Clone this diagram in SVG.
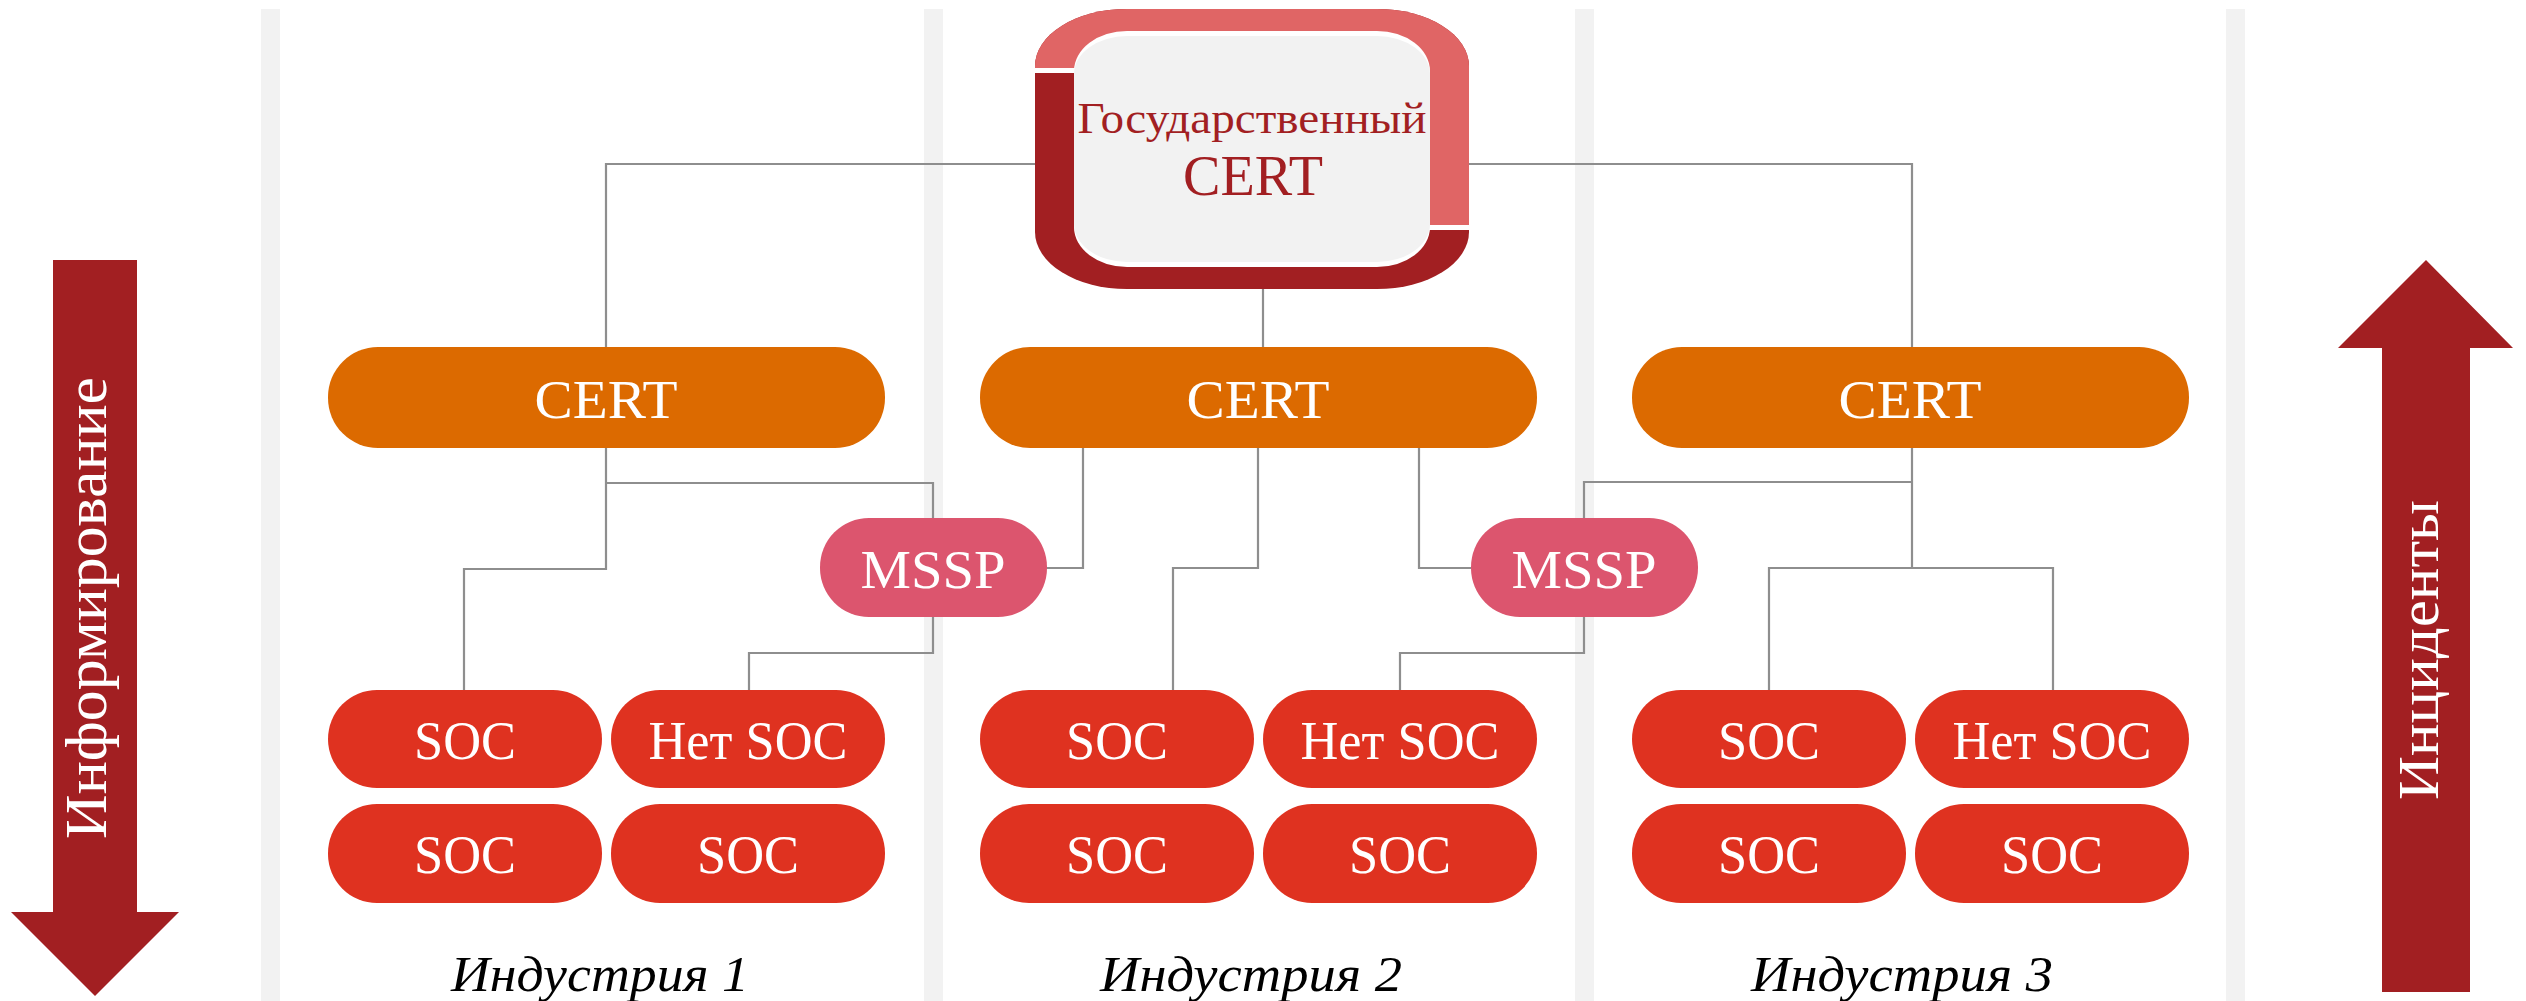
<svg xmlns="http://www.w3.org/2000/svg" width="2526" height="1001" viewBox="0 0 2526 1001">
<style>
.band{fill:#F2F2F2}
.ln{fill:none;stroke:#8E8E8E;stroke-width:2.2}
.t{font-family:"Liberation Serif","Times New Roman",serif;text-anchor:middle}
.w{fill:#FFFFFF;font-size:55px}
.cert{fill:#DC6A00}
.mssp{fill:#DC556E}
.soc{fill:#DF3220}
.ind{font-family:"Liberation Serif","Times New Roman",serif;font-style:italic;font-size:50px;fill:#000;text-anchor:middle}
.arr{fill:#A21F22}
</style>
<defs>
<clipPath id="lightClip"><polygon points="1030,0 1475,0 1475,225 1400,225 1400,68 1030,68"/></clipPath>
</defs>
<rect width="2526" height="1001" fill="#FFFFFF"/>
<g id="bands">
<rect class="band" x="261" y="9" width="19" height="992"/>
<rect class="band" x="924" y="9" width="19" height="992"/>
<rect class="band" x="1575" y="9" width="19" height="992"/>
<rect class="band" x="2226" y="9" width="19" height="992"/>
</g>
<g id="connectors">
<path class="ln" d="M1035,164 H606 V347"/>
<path class="ln" d="M1469,164 H1912 V347"/>
<path class="ln" d="M1263,289 V347"/>
<path class="ln" d="M606,448 V569 H464 V690"/>
<path class="ln" d="M606,483 H933 V518"/>
<path class="ln" d="M933,617 V653 H749 V690"/>
<path class="ln" d="M1083,448 V568 H1045"/>
<path class="ln" d="M1258,448 V568 H1173 V690"/>
<path class="ln" d="M1419,448 V568 H1471"/>
<path class="ln" d="M1912,448 V568"/>
<path class="ln" d="M1912,482 H1584 V518"/>
<path class="ln" d="M1769,690 V568 H2053 V690"/>
<path class="ln" d="M1584,617 V653 H1400 V690"/>
</g>
<g id="gov-cert">
<rect x="1035" y="9" width="434" height="280" rx="92" ry="57" fill="#A21F22"/>
<rect x="1035" y="9" width="434" height="280" rx="92" ry="57" fill="#E06565" clip-path="url(#lightClip)"/>
<rect x="1030" y="68" width="48" height="5" fill="#FFFFFF"/>
<rect x="1426" y="225" width="48" height="5" fill="#FFFFFF"/>
<rect x="1074" y="31" width="356" height="236" rx="53" ry="40" fill="#FFFFFF"/>
<rect x="1074" y="36" width="356" height="226" rx="53" ry="38" fill="#F2F2F2"/>
<text class="t" x="1252" y="133" font-size="45" fill="#A21F22" textLength="349" lengthAdjust="spacingAndGlyphs">Государственный</text>
<text class="t" x="1253" y="195" font-size="57" fill="#A21F22" textLength="140" lengthAdjust="spacingAndGlyphs">CERT</text>
</g>
<g id="cert1"><rect class="cert" x="328" y="347" width="557" height="101" rx="50"/><text class="t w" x="606" y="418" textLength="143" lengthAdjust="spacingAndGlyphs">CERT</text></g>
<g id="cert2"><rect class="cert" x="980" y="347" width="557" height="101" rx="50"/><text class="t w" x="1258" y="418" textLength="143" lengthAdjust="spacingAndGlyphs">CERT</text></g>
<g id="cert3"><rect class="cert" x="1632" y="347" width="557" height="101" rx="50"/><text class="t w" x="1910" y="418" textLength="143" lengthAdjust="spacingAndGlyphs">CERT</text></g>
<g id="mssp1"><rect class="mssp" x="820" y="518" width="227" height="99" rx="49"/><text class="t w" x="933" y="588" textLength="145" lengthAdjust="spacingAndGlyphs">MSSP</text></g>
<g id="mssp2"><rect class="mssp" x="1471" y="518" width="227" height="99" rx="49"/><text class="t w" x="1584" y="588" textLength="145" lengthAdjust="spacingAndGlyphs">MSSP</text></g>
<g id="ind1-soc1"><rect class="soc" x="328" y="690" width="274" height="98" rx="49"/><text class="t w" x="465" y="759" textLength="102" lengthAdjust="spacingAndGlyphs">SOC</text></g>
<g id="ind1-nosoc"><rect class="soc" x="611" y="690" width="274" height="98" rx="49"/><text class="t w" x="748" y="759" textLength="199" lengthAdjust="spacingAndGlyphs">Нет SOC</text></g>
<g id="ind1-soc2"><rect class="soc" x="328" y="804" width="274" height="99" rx="49"/><text class="t w" x="465" y="873" textLength="102" lengthAdjust="spacingAndGlyphs">SOC</text></g>
<g id="ind1-soc3"><rect class="soc" x="611" y="804" width="274" height="99" rx="49"/><text class="t w" x="748" y="873" textLength="102" lengthAdjust="spacingAndGlyphs">SOC</text></g>
<g id="ind2-soc1"><rect class="soc" x="980" y="690" width="274" height="98" rx="49"/><text class="t w" x="1117" y="759" textLength="102" lengthAdjust="spacingAndGlyphs">SOC</text></g>
<g id="ind2-nosoc"><rect class="soc" x="1263" y="690" width="274" height="98" rx="49"/><text class="t w" x="1400" y="759" textLength="199" lengthAdjust="spacingAndGlyphs">Нет SOC</text></g>
<g id="ind2-soc2"><rect class="soc" x="980" y="804" width="274" height="99" rx="49"/><text class="t w" x="1117" y="873" textLength="102" lengthAdjust="spacingAndGlyphs">SOC</text></g>
<g id="ind2-soc3"><rect class="soc" x="1263" y="804" width="274" height="99" rx="49"/><text class="t w" x="1400" y="873" textLength="102" lengthAdjust="spacingAndGlyphs">SOC</text></g>
<g id="ind3-soc1"><rect class="soc" x="1632" y="690" width="274" height="98" rx="49"/><text class="t w" x="1769" y="759" textLength="102" lengthAdjust="spacingAndGlyphs">SOC</text></g>
<g id="ind3-nosoc"><rect class="soc" x="1915" y="690" width="274" height="98" rx="49"/><text class="t w" x="2052" y="759" textLength="199" lengthAdjust="spacingAndGlyphs">Нет SOC</text></g>
<g id="ind3-soc2"><rect class="soc" x="1632" y="804" width="274" height="99" rx="49"/><text class="t w" x="1769" y="873" textLength="102" lengthAdjust="spacingAndGlyphs">SOC</text></g>
<g id="ind3-soc3"><rect class="soc" x="1915" y="804" width="274" height="99" rx="49"/><text class="t w" x="2052" y="873" textLength="102" lengthAdjust="spacingAndGlyphs">SOC</text></g>
<g id="labels">
<text class="ind" x="600" y="991" textLength="298" lengthAdjust="spacingAndGlyphs">Индустрия 1</text>
<text class="ind" x="1251" y="991" textLength="302" lengthAdjust="spacingAndGlyphs">Индустрия 2</text>
<text class="ind" x="1902" y="991" textLength="302" lengthAdjust="spacingAndGlyphs">Индустрия 3</text>
</g>
<g id="arrow-info">
<polygon class="arr" points="53,260 137,260 137,912 179,912 95,996 11,912 53,912"/>
<text class="t" transform="translate(106,608) rotate(-90)" font-size="59" fill="#FFFFFF" textLength="462" lengthAdjust="spacingAndGlyphs">Информирование</text>
</g>
<g id="arrow-incidents">
<polygon class="arr" points="2426,260 2513,348 2470,348 2470,992 2382,992 2382,348 2338,348"/>
<text class="t" transform="translate(2438,650) rotate(-90)" font-size="57" fill="#FFFFFF" textLength="300" lengthAdjust="spacingAndGlyphs">Инциденты</text>
</g>
</svg>
